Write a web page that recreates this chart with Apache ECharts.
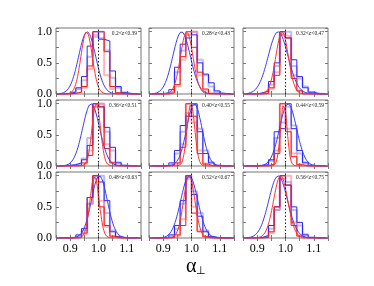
<!DOCTYPE html>
<html><head><meta charset="utf-8">
<script src="https://cdn.jsdelivr.net/npm/echarts@6/dist/echarts.min.js"></script>
<style>html,body{margin:0;padding:0;background:#fff}#c{width:374px;height:286px}</style>
</head><body><div id="c"></div>
<script>
// bin edges (bin width 0.02)
const binEdges = [0.86,0.88,0.90,0.92,0.94,0.96,0.98,1.00,1.02,1.04,1.06,1.08,1.10,1.12,1.14];
const panelLabels = ['0.2<z<0.39','0.28<z<0.43','0.32<z<0.47','0.36<z<0.51','0.40<z<0.55','0.44<z<0.59','0.48<z<0.63','0.52<z<0.67','0.56<z<0.75'];
const xTickLabels = ['0.9','1.0','1.1'];
const yTickLabels = ['0.0','0.5','1.0'];

const blueDark = [
 [0,0.01,0.03,0.10,0.28,0.77,1.00,0.88,0.85,0.37,0.12,0.02,0,0],
 [0,0,0.02,0.07,0.43,0.80,0.90,0.95,0.50,0.32,0.18,0.05,0.01,0],
 [0,0,0.02,0.05,0.20,0.50,1.00,0.90,0.55,0.28,0.10,0.03,0,0],
 [0,0.01,0.02,0.05,0.10,0.33,1.00,0.95,0.62,0.30,0.05,0.01,0,0],
 [0,0,0.01,0.05,0.25,0.65,0.80,1.00,0.55,0.20,0.05,0.01,0,0],
 [0,0,0.01,0.02,0.10,0.55,0.60,1.00,0.60,0.25,0.05,0.01,0,0],
 [0,0,0.01,0.05,0.15,0.65,1.00,0.90,0.60,0.10,0.02,0,0,0],
 [0,0,0.01,0.05,0.20,0.60,1.00,0.70,0.35,0.10,0.02,0,0,0],
 [0,0,0.01,0.04,0.20,0.50,1.00,0.85,0.50,0.25,0.05,0.01,0,0]
];
const blueLight = [
 [0,0.01,0.04,0.08,0.22,0.60,0.92,1.00,0.70,0.26,0.10,0.03,0,0],
 [0,0,0.02,0.05,0.35,0.70,0.95,1.00,0.55,0.30,0.12,0.03,0,0],
 [0,0,0.01,0.04,0.15,0.45,0.95,1.00,0.45,0.25,0.12,0.03,0.01,0],
 [0,0.01,0.02,0.04,0.12,0.45,0.95,1.00,0.55,0.25,0.06,0.01,0,0],
 [0,0,0.01,0.04,0.20,0.55,0.85,0.98,0.60,0.25,0.06,0.01,0,0],
 [0,0,0.01,0.02,0.08,0.45,0.70,0.95,0.65,0.20,0.06,0.01,0,0],
 [0,0,0.01,0.04,0.12,0.55,0.95,1.00,0.40,0.12,0.02,0,0,0],
 [0,0,0.01,0.04,0.15,0.55,0.95,0.75,0.40,0.12,0.02,0,0,0],
 [0,0,0.01,0.03,0.15,0.45,0.95,0.90,0.45,0.20,0.06,0.01,0,0]
];
const redDark = [
 [0,0,0.01,0.03,0.12,0.45,1.00,1.00,0.68,0.12,0.02,0,0,0],
 [0,0,0,0.02,0.15,0.60,1.00,0.75,0.35,0.08,0.01,0,0,0],
 [0,0,0,0.01,0.10,0.30,1.00,0.90,0.25,0.05,0,0,0,0],
 [0,0,0,0.01,0.05,0.17,1.00,0.95,0.28,0.05,0.01,0,0,0],
 [0,0,0,0.01,0.05,0.30,1.00,0.80,0.20,0.03,0,0,0,0],
 [0,0,0,0,0.03,0.20,1.00,0.55,0.15,0.02,0,0,0,0],
 [0,0,0,0.01,0.08,0.65,1.00,0.50,0.20,0.03,0,0,0,0],
 [0,0,0,0.01,0.05,0.20,1.00,0.40,0.10,0.02,0,0,0,0],
 [0,0,0,0.01,0.10,0.50,1.00,0.85,0.20,0.03,0,0,0,0]
];
const redLight = [
 [0,0,0.01,0.02,0.10,0.40,0.95,0.90,0.30,0.08,0.01,0,0,0],
 [0,0,0,0.03,0.12,0.55,0.95,1.00,0.30,0.06,0.01,0,0,0],
 [0,0,0,0.01,0.08,0.35,0.95,0.92,0.30,0.06,0.01,0,0,0],
 [0,0,0,0.01,0.04,0.25,0.95,1.00,0.35,0.06,0.01,0,0,0],
 [0,0,0,0.01,0.04,0.35,1.00,0.70,0.25,0.04,0,0,0,0],
 [0,0,0,0,0.02,0.25,1.00,0.60,0.20,0.03,0,0,0,0],
 [0,0,0,0.01,0.06,0.55,1.00,0.60,0.18,0.02,0,0,0,0],
 [0,0,0,0.01,0.04,0.30,1.00,0.50,0.12,0.02,0,0,0,0],
 [0,0,0,0.01,0.08,0.45,0.95,1.00,0.25,0.04,0,0,0,0]
];
// Gaussian fit parameters (peak-normalised)
const blueMu = [0.960,0.965,0.974,0.974,1.010,1.009,1.003,0.992,0.974];
const blueSigma = [0.030,0.031,0.035,0.030,0.027,0.030,0.028,0.030,0.033];
const redMu = [0.958,0.983,0.988,0.992,0.998,0.994,0.986,0.992,0.983];
const redSigma = [0.020,0.022,0.022,0.015,0.0135,0.0115,0.016,0.020,0.025];

const colLeft = [56,149,243], rowTop = [28,100,172], pw = 85, ph = 66;
const XMIN = 0.85, XMAX = 1.15, YMAX = 1.06;

function stepPoints(vals){
  const pts = [[binEdges[0],0]];
  for (let i=0;i<vals.length;i++){ pts.push([binEdges[i],vals[i]]); pts.push([binEdges[i+1],vals[i]]); }
  pts.push([binEdges[binEdges.length-1],0]);
  return pts;
}
function gaussPoints(mu,s){
  const pts=[];
  for (let k=0;k<=300;k++){ const x = XMIN + (XMAX-XMIN)*k/300; pts.push([x, Math.exp(-0.5*((x-mu)/s)**2)]); }
  return pts;
}
const F = 'Liberation Serif';
const grids=[], xAxes=[], yAxes=[], series=[], graphics=[];
for (let p=0;p<9;p++){
  const r=Math.floor(p/3), c=p%3;
  grids.push({left:colLeft[c], top:rowTop[r], width:pw, height:ph, show:true, borderColor:'#777', borderWidth:1});
  const bottomRow = r===2, leftCol = c===0;
  const xi = xAxes.length;
  xAxes.push({type:'value', gridIndex:p, min:XMIN, max:XMAX, interval:0.05, position:'bottom',
    axisLine:{show:false}, splitLine:{show:false},
    axisTick:{inside:true, length:3, lineStyle:{color:'#777'}},
    axisLabel:{show:bottomRow, margin:5, color:'#000', fontFamily:F, fontSize:12,
      formatter:v=>{const s=v.toFixed(1); return (Math.abs(v*10-Math.round(v*10))<1e-6 && xTickLabels.includes(s))?s:'';}}});
  xAxes.push({type:'value', gridIndex:p, min:XMIN, max:XMAX, interval:0.05, position:'top',
    axisLine:{show:false}, splitLine:{show:false}, axisLabel:{show:false},
    axisTick:{inside:true, length:3, lineStyle:{color:'#777'}}});
  const yi = yAxes.length;
  yAxes.push({type:'value', gridIndex:p, min:0, max:YMAX, interval:0.25, position:'left',
    axisLine:{show:false}, splitLine:{show:false},
    axisTick:{inside:true, length:3, lineStyle:{color:'#777'}},
    axisLabel:{show:leftCol, margin:4, color:'#000', fontFamily:F, fontSize:12,
      formatter:v=>{const s=v.toFixed(1); return (Math.abs(v*2-Math.round(v*2))<1e-6 && yTickLabels.includes(s))?s:'';}}});
  yAxes.push({type:'value', gridIndex:p, min:0, max:YMAX, interval:0.25, position:'right',
    axisLine:{show:false}, splitLine:{show:false}, axisLabel:{show:false},
    axisTick:{inside:true, length:3, lineStyle:{color:'#777'}}});
  const base = {type:'line', xAxisIndex:xi, yAxisIndex:yi, symbol:'none', silent:true, animation:false};
  series.push(Object.assign({}, base, {data:stepPoints(blueLight[p]), lineStyle:{color:'rgba(120,120,255,0.5)', width:2}}));
  series.push(Object.assign({}, base, {data:stepPoints(redLight[p]), lineStyle:{color:'rgba(255,110,110,0.5)', width:2}}));
  series.push(Object.assign({}, base, {data:stepPoints(blueDark[p]), lineStyle:{color:'#2a2aff', width:1}}));
  series.push(Object.assign({}, base, {data:stepPoints(redDark[p]), lineStyle:{color:'#f01a1a', width:1}}));
  series.push(Object.assign({}, base, {data:gaussPoints(blueMu[p],blueSigma[p]), lineStyle:{color:'#3a3aff', width:1}}));
  series.push(Object.assign({}, base, {data:gaussPoints(redMu[p],redSigma[p]), lineStyle:{color:'#ff3030', width:1},
    markLine:{silent:true, symbol:'none', label:{show:false}, lineStyle:{color:'#222', type:[1.5,2], width:1}, data:[{xAxis:1.0}]}}));
  graphics.push({type:'text', right:374-(colLeft[c]+pw)+4, top:rowTop[r]+3,
    style:{text:panelLabels[p], font:'5.5px "Liberation Serif"', fill:'#222'}});
}
graphics.push({type:'text', left:186, top:257, style:{rich:{a:{fontFamily:F, fontSize:20, fill:'#000'}, b:{fontFamily:F, fontSize:11, fill:'#000', padding:[9,0,0,0]}}, text:'{a|α}{b|⊥}'}});
const chart = echarts.init(document.getElementById('c'));
chart.setOption({animation:false, grid:grids, xAxis:xAxes, yAxis:yAxes, series:series, graphic:graphics});
</script></body></html>
